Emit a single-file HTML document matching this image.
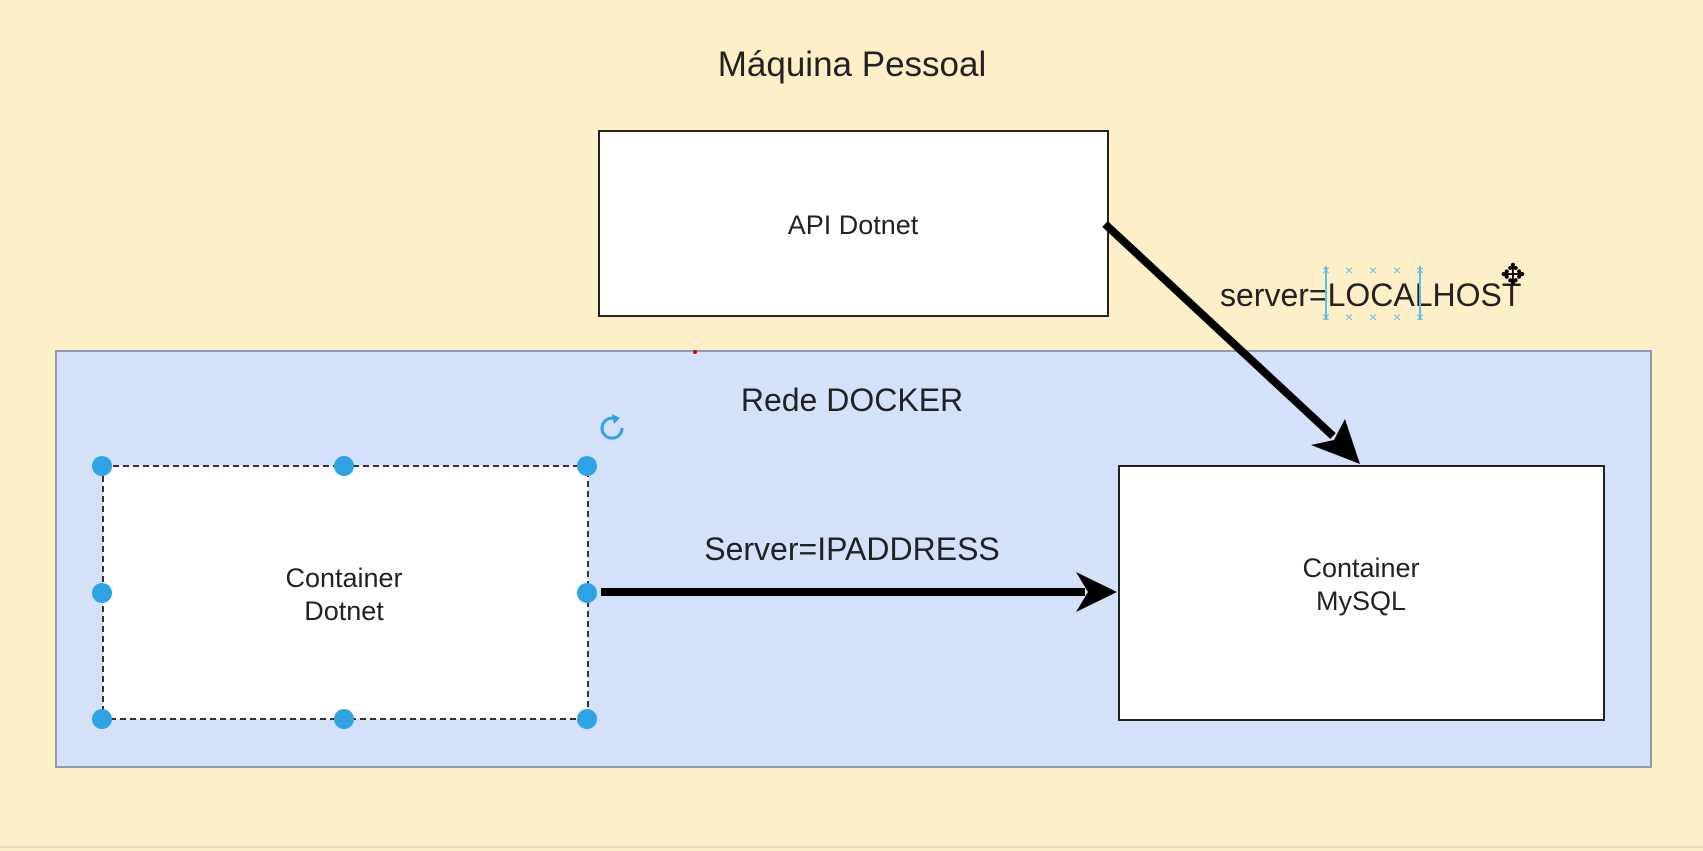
<!DOCTYPE html>
<html><head><meta charset="utf-8"><style>
html,body{margin:0;padding:0;background:#fdf0c8;}
svg{display:block}
</style></head><body>
<svg width="1703" height="851" viewBox="0 0 1703 851" xmlns="http://www.w3.org/2000/svg" font-family="Liberation Sans, sans-serif">
<rect x="0" y="0" width="1703" height="851" fill="#fdf0c8"/>
<line x1="0" y1="847" x2="1703" y2="847" stroke="#e3dcc4" stroke-width="2"/>
<text x="852" y="76" font-size="35" text-anchor="middle" fill="#222">Máquina Pessoal</text>
<rect x="599" y="131" width="509" height="185" fill="#fff" stroke="#222" stroke-width="2"/>
<text x="853" y="234" font-size="27" text-anchor="middle" fill="#222">API Dotnet</text>
<rect x="56" y="351" width="1595" height="416" fill="#d4e1f8" stroke="#8f9bb0" stroke-width="2"/>
<circle cx="695" cy="352" r="2" fill="#d00"/>
<text x="852" y="411" font-size="32" text-anchor="middle" fill="#222">Rede DOCKER</text>
<rect x="103" y="466" width="485" height="253" fill="#fff" stroke="#333" stroke-width="2" stroke-dasharray="6,4"/>
<text x="344" y="587" font-size="27" text-anchor="middle" fill="#222">Container</text>
<text x="344" y="620" font-size="27" text-anchor="middle" fill="#222">Dotnet</text>
<g fill="#2ea3e6">
<circle cx="102" cy="466" r="10"/><circle cx="344" cy="466" r="10"/><circle cx="587" cy="466" r="10"/>
<circle cx="102" cy="593" r="10"/><circle cx="587" cy="593" r="10"/>
<circle cx="102" cy="719" r="10"/><circle cx="344" cy="719" r="10"/><circle cx="587" cy="719" r="10"/>
</g>
<path d="M622 428 a10 10 0 1 1 -6 -9" fill="none" stroke="#2ea3e6" stroke-width="3"/>
<path d="M612 414 l8 4 l-6 6 z" fill="#2ea3e6"/>
<rect x="1119" y="466" width="485" height="254" fill="#fff" stroke="#222" stroke-width="2"/>
<text x="1361" y="577" font-size="27" text-anchor="middle" fill="#222">Container</text>
<text x="1361" y="610" font-size="27" text-anchor="middle" fill="#222">MySQL</text>
<line x1="601" y1="592" x2="1085" y2="592" stroke="#000" stroke-width="8"/>
<path d="M1117 592 L1076 572 L1088 592 L1076 612 Z" fill="#000"/>
<text x="852" y="560" font-size="32" text-anchor="middle" fill="#222">Server=IPADDRESS</text>
<line x1="1105" y1="224" x2="1333" y2="436" stroke="#000" stroke-width="8"/>
<path d="M1360 464 L1345 419 L1334 440 L1311 445 Z" fill="#000"/>
<text x="1220" y="306" font-size="32" fill="#222">server=LOCALHOST</text>
<g stroke="#5bc0e8" stroke-width="2" fill="none">
<line x1="1326" y1="266" x2="1326" y2="320"/><line x1="1420" y1="266" x2="1420" y2="320"/>
</g>
<g font-size="14" fill="#5bc0e8" text-anchor="middle">
<text x="1326" y="275">×</text><text x="1349" y="275">×</text><text x="1373" y="275">×</text><text x="1397" y="275">×</text><text x="1420" y="275">×</text>
<text x="1326" y="322">×</text><text x="1349" y="322">×</text><text x="1373" y="322">×</text><text x="1397" y="322">×</text><text x="1420" y="322">×</text>
</g>
<text x="1513" y="285" font-size="30" text-anchor="middle" fill="#000">✥</text>
</svg>
</body></html>
